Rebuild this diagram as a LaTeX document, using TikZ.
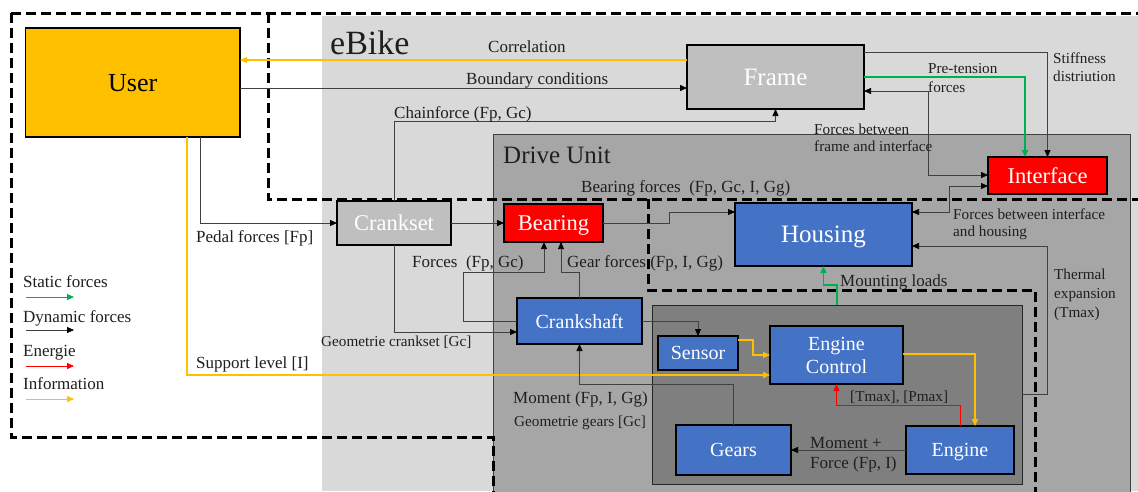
\documentclass[tikz,border=0pt]{standalone}
\usepackage{fontspec}
\setmainfont{Liberation Serif}
\usetikzlibrary{arrows.meta}
\definecolor{bgA}{HTML}{D9D9D9}
\definecolor{bgB}{HTML}{A6A6A6}
\definecolor{bgC}{HTML}{7F7F7F}
\definecolor{boxgray}{HTML}{BFBFBF}
\definecolor{boxblue}{HTML}{4472C4}
\definecolor{boxred}{HTML}{FF0000}
\definecolor{userorange}{HTML}{FFC000}
\definecolor{infoc}{HTML}{FFC000}
\definecolor{statc}{HTML}{00B050}
\definecolor{enerc}{HTML}{FF0000}
\definecolor{linec}{HTML}{404040}
\definecolor{txtc}{HTML}{1F1F1F}
\newcommand\fLab{\fontsize{17}{19}\selectfont}
\newcommand\fSml{\fontsize{15.2}{17}\selectfont}
\begin{document}
\begin{tikzpicture}[x=1pt,y=-1pt,
  box/.style={draw=black, line width=1.1pt, inner sep=0pt, outer sep=0pt, text=white, align=center, text depth=0pt},
  region/.style={inner sep=0pt, outer sep=0pt, anchor=north west},
  lbl/.style={inner sep=0pt, anchor=mid west, text=txtc, font=\fLab},
  slbl/.style={inner sep=0pt, anchor=mid west, text=txtc, font=\fSml},
  mlbl/.style={inner sep=0pt, anchor=west, text=txtc, align=left},
  tip/.style={-{Triangle[length=7pt,width=6pt,color=black]}},
  dyn/.style={draw=linec, line width=0.75pt, tip},
  dynb/.style={draw=linec, line width=0.75pt, {Triangle[length=7pt,width=6pt,color=black]}-{Triangle[length=7pt,width=6pt,color=black]}},
  info/.style={draw=infoc, line width=1.2pt, -{Triangle[length=7pt,width=6pt]}},
  stat/.style={draw=statc, line width=1.6pt, -{Triangle[length=7pt,width=6pt]}},
  ener/.style={draw=enerc, line width=1pt, -{Triangle[length=7pt,width=6pt]}},
  dsh/.style={draw=black, line width=3pt, dash pattern=on 10pt off 5pt}
]
\useasboundingbox (0,0) rectangle (1138,491);
\fill[white] (0,0) rectangle (1138,491);

% regions
\node[region, fill=bgA, minimum width=816pt, minimum height=475pt] (ebike) at (322,16) {};
\node[region, fill=bgB, draw=linec, line width=0.8pt, minimum width=637pt, minimum height=365pt] (drive) at (493,134) {};
\node[region, fill=bgC, draw=black!85, line width=1pt, minimum width=370pt, minimum height=179pt] (inner) at (652,305) {};

% dashed boundaries
\draw[dsh] (11,13) -- (1142,13);
\draw[dsh] (11,13) -- (11,437) -- (493,437) -- (493,496);
\draw[dsh] (268,13) -- (268,199) -- (1142,199);
\draw[dsh] (648,199) -- (648,290) -- (1035,290) -- (1035,496);

% region titles
\node[lbl, font=\fontsize{34}{36}\selectfont] (tebike) at (330,52) {eBike};
\node[lbl, font=\fontsize{25}{27}\selectfont] (tdrive) at (503,161) {Drive Unit};

% boxes
\node[box, fill=userorange, text=black, minimum width=214.5pt, minimum height=109pt, font=\fontsize{26}{28}\selectfont] (User) at (132.75,82.5) {User};
\node[box, fill=boxgray, minimum width=177pt, minimum height=64pt, font=\fontsize{25}{27}\selectfont] (Frame) at (775.5,77) {Frame};
\node[box, fill=boxred, minimum width=119pt, minimum height=37pt, font=\fontsize{22.5}{24}\selectfont] (Interface) at (1047.5,175.5) {Interface};
\node[box, fill=boxgray, minimum width=114pt, minimum height=44pt, font=\fontsize{22.5}{24}\selectfont] (Crankset) at (394,223) {Crankset};
\node[box, fill=boxred, minimum width=99pt, minimum height=38pt, font=\fontsize{22.5}{24}\selectfont] (Bearing) at (553.5,223) {Bearing};
\node[box, fill=boxblue, minimum width=177pt, minimum height=63pt, font=\fontsize{25}{27}\selectfont] (Housing) at (823.5,234.5) {Housing};
\node[box, fill=boxblue, minimum width=125pt, minimum height=46pt, font=\fontsize{20}{22}\selectfont] (Crankshaft) at (579.5,321) {Crankshaft};
\node[box, fill=boxblue, minimum width=80pt, minimum height=34pt, font=\fontsize{20}{22}\selectfont] (Sensor) at (698,353) {Sensor};
\node[box, fill=boxblue, minimum width=133pt, minimum height=58pt, font=\fontsize{20}{23}\selectfont] (EC) at (836.5,355) {Engine\\Control};
\node[box, fill=boxblue, minimum width=115pt, minimum height=50pt, font=\fontsize{20}{22}\selectfont] (Gears) at (733.5,450) {Gears};
\node[box, fill=boxblue, minimum width=108pt, minimum height=48pt, font=\fontsize{20}{22}\selectfont] (Engine) at (960,450) {Engine};

% connectors
\draw[info] (Frame.west |- 0,60) -- (User.east |- 0,60);
\draw[dyn] (User.east |- 0,88) -- (Frame.west |- 0,88);
\draw[dyn] (Crankset.north) -- (Crankset.north |- 0,121) -| (Frame.south);
\draw[dyn] (User.south -| 200,0) |- (Crankset.west);
\draw[info] (User.south -| 187,0) |- (EC.west |- 0,375);
\draw[dyn] (Crankset.east) -- (Bearing.west);
\draw[dyn] (Crankset.south) |- (Crankshaft.west |- 0,332);
\draw[dyn] (Crankshaft.west) -| (463,272) -| (Bearing.south -| 544,0);
\draw[dyn] (Crankshaft.north) |- (561,272) -- (Bearing.south -| 561,0);
\draw[dyn] (Bearing.east) -| (669,212) -- (Housing.west |- 0,212);
\draw[dyn] (Crankshaft.east) -| (Sensor.north);
\draw[info] (Sensor.east |- 0,340) -| (753,355) -- (EC.west |- 0,355);
\draw[info] (EC.east |- 0,354) -| (Engine.north -| 975,0);
\draw[ener] (Engine.north) -- (Engine.north |- 0,405) -| (EC.south);
\draw[dyn] (Engine.west) -- (Gears.east);
\draw[dyn] (Gears.north) -- (Gears.north |- 0,384) -| (Crankshaft.south);
\draw[stat] (inner.north -| 837,0) -- (837,285) -| (Housing.south);
\draw[dyn] (inner.east |- 0,394) -| (1047,246) -- (Housing.east |- 0,246);
\draw[dynb] (Housing.east |- 0,212) -| (949,186) -- (Interface.west |- 0,186);
\draw[dynb] (Frame.east |- 0,91) -| (928,175) -- (Interface.west |- 0,175);
\draw[stat] (Frame.east |- 0,77) -| (Interface.north -| 1025,0);
\draw[dyn] (Frame.east |- 0,52) -| (Interface.north);

% labels
\node[lbl] (lcorr) at (488,50) {Correlation};
\node[lbl] (lbound) at (466,82) {Boundary conditions};
\node[lbl] (lchain) at (394,116) {Chainforce (Fp, Gc)};
\node[lbl] (lpedal) at (196,240) {Pedal forces [Fp]};
\node[lbl] (lsupp) at (196,366) {Support level [I]};
\node[slbl] (lgeoc) at (321,344) {Geometrie crankset [Gc]};
\node[lbl] (lforces) at (412,265) {Forces\enspace(Fp, Gc)};
\node[lbl] (lgear) at (567,265) {Gear forces (Fp, I, Gg)};
\node[lbl] (lbear) at (581,190) {Bearing forces\enspace(Fp, Gc, I, Gg)};
\node[lbl] (lmom) at (513,401) {Moment (Fp, I, Gg)};
\node[slbl] (lgeog) at (514,424) {Geometrie gears [Gc]};
\node[lbl] (lmount) at (840,284) {Mounting loads};
\node[slbl] (ltmax) at (850,399) {[Tmax], [Pmax]};
\node[mlbl, font=\fontsize{17}{20}\selectfont] (lmomf) at (810,454.5) {Moment +\\Force (Fp, I)};
\node[mlbl, font=\fontsize{15.2}{19}\selectfont] (ltherm) at (1054,295) {Thermal\\expansion\\(Tmax)};
\node[mlbl, font=\fontsize{15.2}{17}\selectfont] (lfih) at (953,224.5) {Forces between interface\\and housing};
\node[mlbl, font=\fontsize{15.2}{17}\selectfont] (lffi) at (814,137.5) {Forces between\\frame and interface};
\node[mlbl, font=\fontsize{15.2}{19}\selectfont] (lpre) at (928,78) {Pre-tension\\forces};
\node[mlbl, font=\fontsize{15.2}{18}\selectfont] (lstiff) at (1053,67.5) {Stiffness\\distriution};

% legend
\node[lbl] (legs) at (23,285) {Static forces};
\node[lbl] (legd) at (23,320) {Dynamic forces};
\node[lbl] (lege) at (23,354) {Energie};
\node[lbl] (legi) at (23,387) {Information};
\coordinate (ls1) at (26,297); \coordinate (ls2) at (74,297);
\coordinate (ld1) at (26,330); \coordinate (ld2) at (74,330);
\coordinate (le1) at (26,366); \coordinate (le2) at (74,366);
\coordinate (li1) at (26,399); \coordinate (li2) at (74,399);
\draw[draw=statc, line width=0.8pt, -{Triangle[length=7pt,width=6pt]}] (ls1) -- (ls2);
\draw[dyn] (ld1) -- (ld2);
\draw[draw=enerc, line width=0.8pt, -{Triangle[length=7pt,width=6pt]}] (le1) -- (le2);
\draw[draw=infoc, line width=0.8pt, -{Triangle[length=7pt,width=6pt]}] (li1) -- (li2);
\end{tikzpicture}
\end{document}
